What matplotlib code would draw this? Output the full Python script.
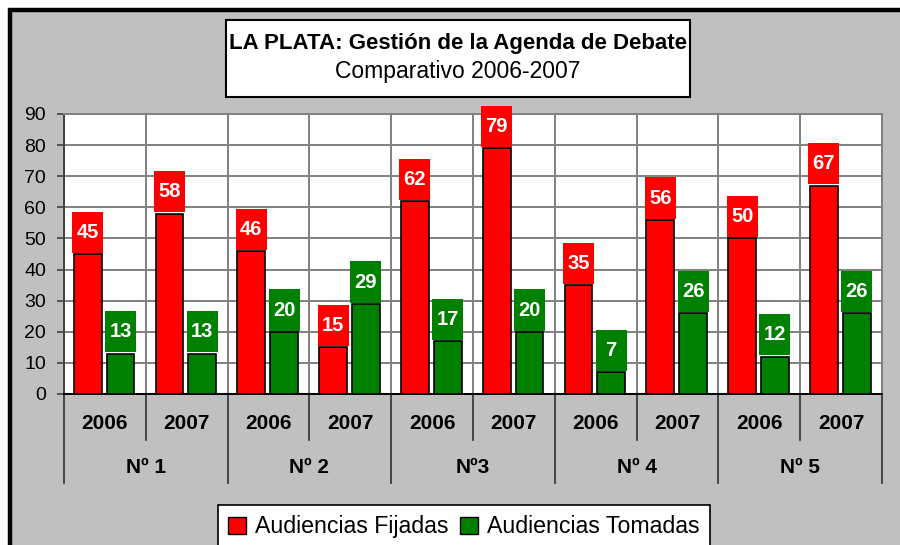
import matplotlib.pyplot as plt
from matplotlib.patches import Rectangle, Patch
from matplotlib.transforms import blended_transform_factory
import numpy as np

# datos
anios = ['2006', '2007', '2006', '2007', '2006', '2007', '2006', '2007', '2006', '2007']
grupos = ['Nº 1', 'Nº 2', 'Nº3', 'Nº 4', 'Nº 5']
fijadas = [45, 58, 46, 15, 62, 79, 35, 56, 50, 67]
tomadas = [13, 13, 20, 29, 17, 20, 7, 26, 12, 26]

ROJO = '#FF0000'
VERDE = '#008000'
GRIS = '#C0C0C0'

plt.rcParams['font.family'] = ['Liberation Sans', 'DejaVu Sans']

fig = plt.figure(figsize=(9, 5.45), dpi=100)
fig.patch.set_facecolor('white')

# fondo gris con borde negro (solo izq/arriba visibles)
W, H = 900., 545.
fig.patches.append(Rectangle((10 / W, -0.2), 1.3, 1.2 - 10 / H, transform=fig.transFigure,
                             facecolor=GRIS, edgecolor='black', linewidth=3.2, zorder=-10))

ax = fig.add_axes([64 / W, 1 - 394 / H, (882 - 64) / W, (394 - 114) / H])
ax.set_facecolor('white')

x = np.arange(len(anios))
ancho = 0.34
xr = x - 0.21
xv = x + 0.19
ax.bar(xr, fijadas, width=ancho, color=ROJO, edgecolor='black', linewidth=1.2, zorder=3)
ax.bar(xv, tomadas, width=ancho, color=VERDE, edgecolor='black', linewidth=1.2, zorder=3)

# cajas de etiquetas encima de las barras
alto_caja = 13.2
for xs, vals, col in [(xr, fijadas, ROJO), (xv, tomadas, VERDE)]:
    cajas = ax.bar(xs, [alto_caja] * len(vals), bottom=[v + 0.4 for v in vals], width=0.38,
                   color=col, linewidth=0, zorder=4)
    for c in cajas:
        c.set_clip_on(False)
    for xi, v in zip(xs, vals):
        ax.text(xi, v + 0.4 + alto_caja / 2, str(v), ha='center', va='center', color='white',
                fontsize=14.5, fontweight='bold', zorder=5, clip_on=False)

ax.set_xlim(-0.5, len(anios) - 0.5)
ax.set_ylim(0, 90)
ax.set_yticks(range(0, 91, 10))
ax.tick_params(axis='y', labelsize=14, length=5, width=1.2, color='#404040', pad=8)
ax.set_xticks([])
ax.yaxis.grid(True, color='#808080', linewidth=1.4, zorder=0)
for b in np.arange(-0.5, len(anios), 1.0):
    ax.axvline(b, color='#808080', linewidth=1.4, zorder=0)
for s in ['top', 'right']:
    ax.spines[s].set_color('#808080')
    ax.spines[s].set_linewidth(1.4)
ax.spines['left'].set_color('#404040')
ax.spines['left'].set_linewidth(1.4)
ax.spines['bottom'].set_color('black')
ax.spines['bottom'].set_linewidth(1.4)

# eje de categorias en dos niveles
trans = blended_transform_factory(ax.transData, ax.transAxes)
for i, b in enumerate(np.arange(-0.5, len(anios), 1.0)):
    largo = 0.318 if i % 2 == 0 else 0.164
    ax.plot([b, b], [0, -largo], transform=trans, color='#303030', linewidth=1.2, clip_on=False)
for xi, a in zip(x, anios):
    ax.text(xi, -0.107, a, transform=trans, ha='center', va='center', fontsize=15, fontweight='bold')
for j, g in enumerate(grupos):
    ax.text(2 * j + 0.5, -0.264, g, transform=trans, ha='center', va='center', fontsize=15,
            fontweight='bold')

# titulo en recuadro
fig.patches.append(Rectangle((226 / W, 1 - 97 / H), (690 - 226) / W, 77 / H, transform=fig.transFigure,
                             facecolor='white', edgecolor='black', linewidth=1.5, zorder=1))
fig.text(458 / W, 1 - 44 / H, 'LA PLATA: Gestión de la Agenda de Debate', ha='center', va='center',
         fontsize=16, fontweight='bold', zorder=2)
fig.text(458 / W, 1 - 71 / H, 'Comparativo 2006-2007', ha='center', va='center',
         fontsize=16.5, zorder=2)

# leyenda
handles = [Patch(facecolor=ROJO, edgecolor='black', label='Audiencias Fijadas'),
           Patch(facecolor=VERDE, edgecolor='black', label='Audiencias Tomadas')]
leg = fig.legend(handles=handles, loc='upper left', bbox_to_anchor=(218 / W, 1 - 505 / H), ncol=2,
                 fontsize=16.7, frameon=True, fancybox=False, edgecolor='black', framealpha=1,
                 handlelength=0.75, handleheight=0.75, handletextpad=0.4, columnspacing=0.5,
                 borderaxespad=0, borderpad=0.45)
leg.get_frame().set_linewidth(1.2)

fig.savefig('out.png', dpi=100, facecolor=fig.get_facecolor())
